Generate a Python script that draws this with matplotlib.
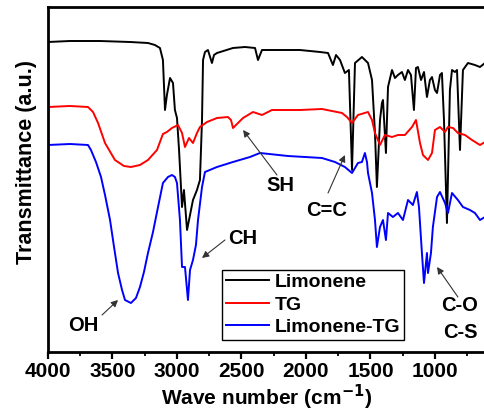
import numpy as np
import matplotlib
matplotlib.use("Agg")
import matplotlib.pyplot as plt
from matplotlib.ticker import MultipleLocator

plt.rcParams["font.family"] = ["Liberation Sans", "DejaVu Sans"]
plt.rcParams["font.weight"] = "bold"

# Limonene
lim_wn = [4000, 3830, 3597, 3364, 3225, 3171, 3132, 3109, 3093, 3078, 3054, 3031, 3016, 3000,
          2984, 2961, 2946, 2922, 2899, 2876, 2845, 2822, 2806, 2798, 2783, 2760, 2729, 2713,
          2690, 2566, 2473, 2395, 2372, 2341, 2202, 2047, 1891, 1829, 1791, 1767, 1736, 1698,
          1667, 1643, 1620, 1566, 1519, 1488, 1465, 1450, 1426, 1411, 1403, 1380, 1364, 1333,
          1310, 1287, 1256, 1233, 1209, 1186, 1163, 1147, 1132, 1108, 1085, 1062, 1039, 1023,
          1000, 984, 961, 946, 930, 907, 884, 868, 845, 829, 806, 783, 744, 690, 651, 612]
lim_t = [310, 311, 311, 310, 309, 307, 304, 292, 242, 257, 274, 269, 242, 234,
         202, 145, 162, 122, 137, 152, 162, 172, 232, 292, 300, 302, 289, 297,
         299, 304, 305, 304, 292, 302, 302, 302, 300, 299, 287, 297, 292, 279,
         282, 182, 289, 295, 289, 272, 219, 165, 232, 249, 252, 199, 265, 282,
         274, 277, 280, 272, 282, 277, 242, 284, 285, 272, 280, 255, 272, 275,
         262, 259, 277, 279, 232, 129, 262, 282, 280, 282, 202, 282, 289, 287, 285, 289]

# TG
tg_wn = [4000, 3830, 3690, 3651, 3612, 3558, 3481, 3411, 3357, 3287, 3225, 3155, 3109, 3078,
         3039, 2992, 2961, 2938, 2907, 2876, 2845, 2822, 2767, 2690, 2605, 2581, 2566, 2535,
         2488, 2411, 2341, 2264, 2047, 1876, 1721, 1682, 1643, 1597, 1519, 1488, 1465, 1426,
         1388, 1333, 1287, 1233, 1178, 1147, 1116, 1093, 1054, 1023, 1000, 961, 922, 899,
         860, 822, 767, 713, 651, 612]
tg_t = [245, 246, 245, 240, 229, 209, 192, 186, 185, 187, 192, 202, 218, 220,
        224, 227, 219, 205, 214, 209, 219, 225, 230, 234, 235, 232, 224, 228,
        234, 240, 237, 242, 242, 243, 239, 235, 229, 237, 240, 232, 219, 207,
        217, 215, 217, 217, 225, 232, 209, 197, 192, 199, 222, 225, 220, 225,
        224, 219, 217, 212, 207, 210]

# Limonene-TG
ltg_wn = [4000, 3830, 3690, 3667, 3628, 3589, 3558, 3519, 3488, 3457, 3426, 3403, 3357, 3318,
          3287, 3256, 3225, 3186, 3147, 3109, 3070, 3039, 3016, 3000, 2977, 2961, 2938, 2922,
          2915, 2899, 2876, 2853, 2837, 2806, 2783, 2690, 2566, 2434, 2357, 2140, 1876, 1775,
          1698, 1643, 1597, 1566, 1543, 1527, 1519, 1488, 1465, 1450, 1426, 1403, 1380, 1364,
          1326, 1287, 1248, 1209, 1171, 1140, 1124, 1101, 1085, 1062, 1054, 1031, 1016, 984,
          961, 922, 899, 868, 822, 783, 729, 690, 651, 612]
ltg_t = [207, 208, 207, 202, 190, 175, 157, 132, 105, 79, 62, 52, 49, 54,
         65, 80, 99, 120, 145, 169, 175, 177, 175, 169, 132, 85, 85, 62,
         52, 82, 92, 107, 132, 165, 180, 185, 190, 195, 199, 196, 194, 190,
         185, 179, 189, 190, 199, 190, 179, 159, 132, 105, 125, 132, 112, 139,
         135, 139, 132, 152, 147, 160, 145, 99, 69, 99, 79, 99, 125, 155,
         160, 149, 139, 159, 152, 145, 142, 139, 132, 135]

fig = plt.figure(figsize=(4.85, 4.15), dpi=100)
ax = fig.add_axes([48 / 485, 63 / 415, 437 / 485, 345 / 415])

ax.plot(lim_wn, lim_t, color="black", lw=1.4, label="Limonene")
ax.plot(tg_wn, tg_t, color="#ff0000", lw=1.4, label="TG")
ax.plot(ltg_wn, ltg_t, color="#0000ff", lw=1.4, label="Limonene-TG")

ax.set_xlim(4000, 612)
ax.set_ylim(0, 345)
ax.set_yticks([])
ax.xaxis.set_major_locator(MultipleLocator(500))
ax.xaxis.set_minor_locator(MultipleLocator(250))
ax.tick_params(axis="x", which="major", direction="out", length=5, width=1.6,
               labelsize=15, pad=2)
ax.tick_params(axis="x", which="minor", direction="out", length=3, width=1.3)
for lbl in ax.get_xticklabels():
    lbl.set_fontweight("bold")

for side in ["left", "bottom", "top"]:
    ax.spines[side].set_linewidth(2)
ax.spines["right"].set_visible(False)

ax.set_xlabel("Wave number (cm$^{\\mathbf{-1}}$)", fontsize=15, fontweight="bold")
ax.xaxis.set_label_coords(0.5, -0.088)
ax.set_ylabel("Transmittance (a.u.)", fontsize=15.5, fontweight="bold")
ax.yaxis.set_label_coords(-0.025, 0.55)

akw = dict(arrowprops=dict(arrowstyle="-|>", color="#333333", lw=0.8,
                           mutation_scale=10, shrinkA=0, shrinkB=0))
tkw = dict(fontsize=14.5, fontweight="bold", ha="center", va="center")
ax.annotate("", xy=(3457, 52), xytext=(3581, 37), **akw)
ax.text(3729, 27, "OH", **tkw)
ax.annotate("", xy=(2806, 94), xytext=(2628, 112), **akw)
ax.text(2488, 114, "CH", **tkw)
ax.annotate("", xy=(2488, 222), xytext=(2225, 177), **akw)
ax.text(2202, 167, "SH", **tkw)
ax.annotate("", xy=(1698, 197), xytext=(1829, 159), **akw)
ax.text(1837, 142, "C=C", **tkw)
ax.annotate("", xy=(984, 85), xytext=(822, 55), **akw)
ax.text(806, 47, "C-O", **tkw)
ax.text(806, 20, "C-S", **tkw)

leg = ax.legend(loc="lower left", bbox_to_anchor=(0.398, 0.035), fontsize=14,
                frameon=True, fancybox=False, edgecolor="black", framealpha=1,
                handlelength=2.2, handletextpad=0.3, labelspacing=0.25,
                borderpad=0.2, borderaxespad=0)
leg.get_frame().set_linewidth(1.0)
for t in leg.get_texts():
    t.set_fontweight("bold")

fig.savefig("out.png", dpi=100)
